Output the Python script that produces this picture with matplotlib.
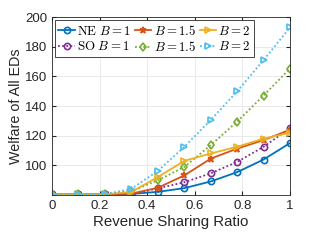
import numpy as np
import matplotlib.pyplot as plt

plt.rcParams['font.family'] = ['Liberation Sans', 'DejaVu Sans']
plt.rcParams['mathtext.fontset'] = 'cm'

# =====================================================
# Data
# =====================================================

ratio = [0, 0.111, 0.222, 0.333, 0.444, 0.556, 0.667, 0.778, 0.889, 1.0]

ne_b1 = [80.5, 80.5, 80.5, 80.7, 82.1, 84.6, 89.1, 95.4, 103.9, 115.0]
ne_b15 = [80.5, 80.5, 80.5, 80.9, 84.8, 93.2, 104.5, 111.3, 117.0, 124.0]
ne_b2 = [80.5, 80.5, 80.5, 82.0, 92.0, 103.0, 108.0, 112.5, 118.0, 122.0]

so_b1 = [80.5, 80.5, 80.5, 80.7, 84.4, 88.6, 94.6, 102.3, 112.5, 125.0]
so_b15 = [80.5, 80.5, 80.5, 82.5, 89.8, 98.9, 113.6, 129.5, 147.1, 165.3]
so_b2 = [80.5, 80.5, 80.5, 84.1, 96.1, 112.5, 130.6, 149.9, 171.0, 193.0]

xticks = [0, 0.2, 0.4, 0.6, 0.8, 1]
yticks = [100, 120, 140, 160, 180, 200]

# =====================================================
# Plot
# =====================================================

fig = plt.figure(figsize=(3.19, 2.41), dpi=100)
ax = fig.add_axes([0.163, 0.191, 0.746, 0.738])

blue = '#0072BD'
orange = '#D95319'
yellow = '#EDB120'
purple = '#7E2F8E'
green = '#77AC30'
cyan = '#4DBEEE'

common = dict(linewidth=1.3, markersize=4.5, markeredgewidth=1.2,
              markerfacecolor='none')
dots = (0, (1, 1.3))

h1, = ax.plot(ratio, ne_b1, '-', marker='o', color=blue,
              label=r'$\mathrm{NE}\ B=1$', **common)
h4, = ax.plot(ratio, so_b1, linestyle=dots, marker='o', color=purple,
              label=r'$\mathrm{SO}\ B=1$', **common)
h2, = ax.plot(ratio, ne_b15, '-', marker='*', color=orange,
              label=r'$B=1.5$', **common)
h5, = ax.plot(ratio, so_b15, linestyle=dots, marker='d', color=green,
              label=r'$B=1.5$', **common)
h3, = ax.plot(ratio, ne_b2, '-', marker='>', color=yellow,
              label=r'$B=2$', **common)
h6, = ax.plot(ratio, so_b2, linestyle=dots, marker='>', color=cyan,
              label=r'$B=2$', **common)

# =====================================================
# Style
# =====================================================

ax.set_xlim(0, 1)
ax.set_ylim(80, 200)
ax.set_xticks(xticks)
ax.set_xticklabels(['0', '0.2', '0.4', '0.6', '0.8', '1'])
ax.set_yticks(yticks)

ax.grid(True, color='#e6e6e6', linewidth=0.6)
ax.set_axisbelow(True)
ax.tick_params(direction='in', labelsize=9.5, colors='#262626', length=3,
               top=True, right=True)
for s in ax.spines.values():
    s.set_color('#262626')
    s.set_linewidth(0.6)

ax.set_xlabel('Revenue Sharing Ratio', fontsize=10.8, color='#262626', labelpad=2)
ax.set_ylabel('Welfare of All EDs', fontsize=10.3, color='#262626', labelpad=1)

leg = ax.legend(handles=[h1, h4, h2, h5, h3, h6], ncol=3, loc='upper left',
                fontsize=9.3, handlelength=1.25, handletextpad=0.2,
                columnspacing=0.3, borderpad=0.25, labelspacing=0.2,
                borderaxespad=0.25, fancybox=False, framealpha=1)
leg.get_frame().set_edgecolor('#262626')
leg.get_frame().set_linewidth(0.6)

plt.savefig('out.png', dpi=100)
